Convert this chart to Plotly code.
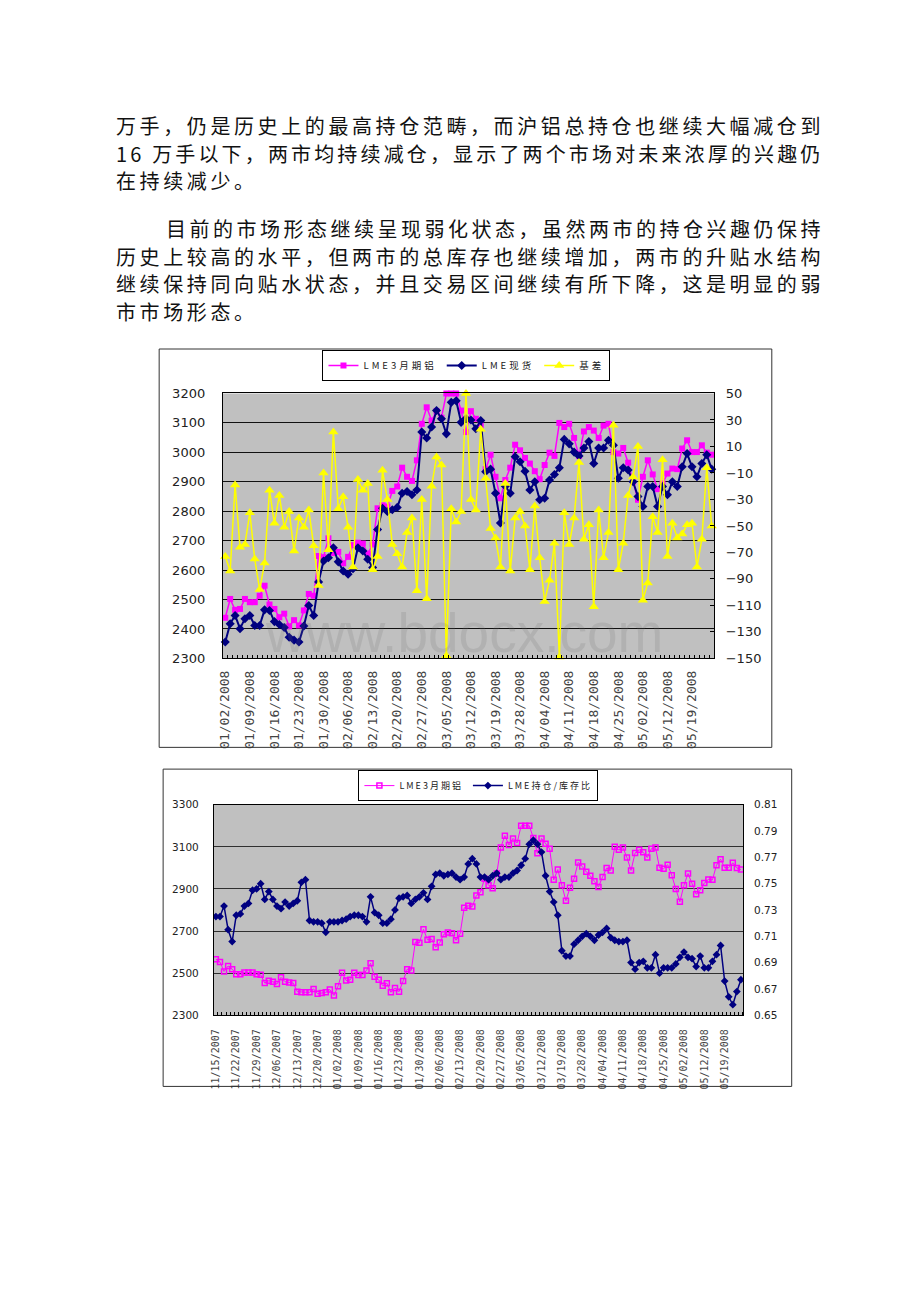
import plotly.graph_objects as go

W, H = 920, 1302

# ---------------- text ----------------
para_lines = [
    "万手，仍是历史上的最高持仓范畴，而沪铝总持仓也继续大幅减仓到",
    "16 万手以下，两市均持续减仓，显示了两个市场对未来浓厚的兴趣仍",
    "在持续减少。",
    "目前的市场形态继续呈现弱化状态，虽然两市的持仓兴趣仍保持",
    "历史上较高的水平，但两市的总库存也继续增加，两市的升贴水结构",
    "继续保持同向贴水状态，并且交易区间继续有所下降，这是明显的弱",
    "市市场形态。",
]
para_x = [110, 110, 110, 160, 110, 110, 110]
para_y = [127, 155, 183, 231, 259, 287, 315]
para_ls = [3.6, 3.15, 3.6, 3.5, 3.6, 3.6, 3.6]

# ---------------- chart 1 data ----------------
ticks1 = ["01/02/2008", "01/09/2008", "01/16/2008", "01/23/2008", "01/30/2008",
          "02/06/2008", "02/13/2008", "02/20/2008", "02/27/2008", "03/05/2008",
          "03/12/2008", "03/19/2008", "03/28/2008", "04/04/2008", "04/11/2008",
          "04/18/2008", "04/25/2008", "05/02/2008", "05/12/2008", "05/19/2008"]

lme3_1 = [2438, 2502, 2465, 2468, 2502, 2491, 2491, 2513, 2547, 2483,
          2468, 2440, 2452, 2409, 2430, 2412, 2463, 2519, 2513, 2648,
          2644, 2708, 2658, 2662, 2623, 2645, 2685, 2693, 2690, 2656,
          2687, 2810, 2820, 2816, 2869, 2884, 2948, 2917, 2903, 2973,
          3097, 3153, 3108, 3140, 3118, 3200, 3200, 3200, 3142, 3069,
          3140, 3114, 3091, 2943, 2992, 2917, 2844, 2906, 2948, 3026,
          3007, 2981, 2962, 2936, 2909, 2957, 2999, 2988, 3100, 3086,
          3097, 3049, 2988, 3071, 3086, 3074, 3049, 3091, 3097, 3001,
          2996, 3015, 2965, 2900, 2839, 2917, 2973, 2925, 2875, 2894,
          2928, 2945, 2943, 3013, 3041, 3001, 3001, 3024, 2999, 2992]

spot_1 = [2356, 2418, 2446, 2401, 2435, 2446, 2412, 2412, 2465, 2463,
          2425, 2415, 2405, 2372, 2362, 2356, 2410, 2480, 2446, 2560,
          2631, 2642, 2676, 2628, 2597, 2586, 2605, 2676, 2665, 2637,
          2609, 2738, 2810, 2799, 2805, 2813, 2861, 2867, 2856, 2872,
          3069, 3049, 3086, 3142, 3114, 3063, 3170, 3175, 3102, 3115,
          3110, 3080, 3108, 2934, 2943, 2861, 2760, 2885, 2861, 2985,
          2968, 2936, 2872, 2900, 2839, 2844, 2906, 2925, 2948, 3044,
          3029, 3001, 2988, 3015, 3037, 2962, 3015, 3015, 3041, 3024,
          2912, 2948, 2940, 2900, 2850, 2816, 2884, 2884, 2816, 2884,
          2856, 2900, 2884, 2951, 2996, 2951, 2917, 2962, 2992, 2943]

basis_1 = [-73, -84, -19, -66, -64, -40, -75, -98, -78, -23,
           -48, -27, -51, -39, -69, -44, -51, -38, -65, -95,
           -10, -68, 21, -37, -28, -51, -81, -15, -23, -18,
           -83, -73, -8, -30, -64, -71, -81, -55, -44, -99,
           -30, -105, -20, 2, -4, -148, -37, -47, -39, 50,
           -30, -38, 23, -14, -52, -59, -81, -18, -84, -44,
           -39, -50, -83, -35, -74, -107, -91, -63, -149, -40,
           -64, -44, -2, -60, -49, -111, -38, -74, -55, 26,
           -83, -63, -27, -13, 10, -106, -93, -43, -55, 0,
           -73, -48, -59, -56, -49, -48, -81, -60, -6, -50]

# ---------------- chart 2 data ----------------
ticks2 = ["11/15/2007", "11/22/2007", "11/29/2007", "12/06/2007", "12/13/2007",
          "12/20/2007", "01/02/2008", "01/09/2008", "01/16/2008", "01/23/2008",
          "01/30/2008", "02/06/2008", "02/13/2008", "02/20/2008", "02/27/2008",
          "03/05/2008", "03/12/2008", "03/19/2008", "03/28/2008", "04/04/2008",
          "04/11/2008", "04/18/2008", "04/25/2008", "05/02/2008", "05/12/2008",
          "05/19/2008"]

lme3_2007 = [2566, 2553, 2508, 2534, 2519, 2495, 2495, 2503, 2503, 2503,
             2495, 2492, 2453, 2464, 2459, 2448, 2480, 2459, 2456, 2453,
             2412, 2409, 2409, 2409, 2425, 2402, 2406, 2409, 2422, 2394]
lme3_2 = lme3_2007 + lme3_1

ratio_2 = [0.725, 0.725, 0.733, 0.715, 0.706, 0.726, 0.727, 0.733, 0.735, 0.745,
           0.746, 0.750, 0.738, 0.744, 0.738, 0.733, 0.731, 0.736, 0.733, 0.735,
           0.737, 0.751, 0.753, 0.722, 0.721, 0.721, 0.720, 0.713, 0.721, 0.721,
           0.721, 0.722, 0.723, 0.725, 0.726, 0.726, 0.725, 0.721, 0.740, 0.728,
           0.726, 0.720, 0.720, 0.723, 0.730, 0.739, 0.740, 0.741, 0.735, 0.738,
           0.740, 0.743, 0.738, 0.748, 0.757, 0.758, 0.756, 0.757, 0.758, 0.755,
           0.753, 0.755, 0.765, 0.769, 0.765,
           0.755, 0.755, 0.753, 0.756, 0.758, 0.753, 0.755, 0.755, 0.758, 0.760,
           0.764, 0.769, 0.780, 0.783, 0.780, 0.774, 0.756, 0.744, 0.736, 0.726,
           0.699, 0.695, 0.695, 0.704, 0.707, 0.710, 0.712, 0.710, 0.707, 0.711,
           0.713, 0.716, 0.709, 0.707, 0.706, 0.706, 0.707, 0.690, 0.685, 0.690,
           0.691, 0.686, 0.686, 0.696, 0.682, 0.686, 0.686, 0.686, 0.689, 0.694,
           0.698, 0.694, 0.693, 0.687, 0.695, 0.686, 0.686, 0.691, 0.696, 0.703,
           0.676, 0.664, 0.658, 0.668, 0.677]

MAGENTA, NAVY, YELLOW = "#FF00FF", "#000080", "#FFFF00"


def px_x(x):
    return x / W


def px_y(y):
    return 1 - y / H


def spaced(s, ls):
    return "<span style='letter-spacing:%.2fpx'>%s</span>" % (ls, s)


x1 = list(range(len(lme3_1)))
x2 = list(range(len(lme3_2)))

fig = go.Figure()

# chart 1 traces
fig.add_trace(go.Scatter(x=x1, y=lme3_1, name=spaced("LME3月期铝", 3), mode="lines+markers",
                         line=dict(color=MAGENTA, width=1.5),
                         marker=dict(symbol="square", size=6, color=MAGENTA, line=dict(width=0)),
                         xaxis="x", yaxis="y", legend="legend", cliponaxis=False))
fig.add_trace(go.Scatter(x=x1, y=spot_1, name=spaced("LME现货", 3), mode="lines+markers",
                         line=dict(color=NAVY, width=2),
                         marker=dict(symbol="diamond", size=7, color=NAVY, line=dict(width=0)),
                         xaxis="x", yaxis="y", legend="legend", cliponaxis=False))
fig.add_trace(go.Scatter(x=x1, y=basis_1, name=spaced("基差", 3), mode="lines+markers",
                         line=dict(color=YELLOW, width=1.5),
                         marker=dict(symbol="triangle-up", size=9, color=YELLOW, line=dict(width=0)),
                         xaxis="x", yaxis="y2", legend="legend", cliponaxis=False))

# chart 2 traces
fig.add_trace(go.Scatter(x=x2, y=lme3_2, name=spaced("LME3月期铝", 2), mode="lines+markers",
                         line=dict(color=MAGENTA, width=1),
                         marker=dict(symbol="square-open", size=5, color=MAGENTA, line=dict(width=1.5)),
                         xaxis="x2", yaxis="y3", legend="legend2"))
fig.add_trace(go.Scatter(x=x2, y=ratio_2, name=spaced("LME持仓/库存比", 2), mode="lines+markers",
                         line=dict(color=NAVY, width=1.5),
                         marker=dict(symbol="diamond", size=6, color=NAVY, line=dict(width=0)),
                         xaxis="x2", yaxis="y4", legend="legend2"))

ytick_font1 = dict(family="DejaVu Sans", size=13, color="#222")
ytick_font2 = dict(family="DejaVu Sans", size=10.5, color="#222")

common_x = dict(showline=True, linecolor="black", linewidth=1, mirror=True,
                showgrid=False, zeroline=False, ticks="", tickangle=-90,
                tickmode="array")

fig.update_layout(
    width=W, height=H, autosize=False,
    margin=dict(l=0, r=0, t=0, b=0),
    paper_bgcolor="white", plot_bgcolor="#C0C0C0",
    showlegend=True,
    xaxis=dict(domain=[px_x(219), px_x(713)], range=[-0.5, len(x1) - 0.5], anchor="y",
               tickvals=[5 * k for k in range(len(ticks1))], ticktext=ticks1,
               tickfont=dict(family="DejaVu Sans Mono", size=13, color="#444"),
               minor=dict(tickmode="linear", tick0=-0.5, dtick=1, ticks="inside",
                          ticklen=3, tickcolor="black", showgrid=False),
               ticklabelstandoff=6, **common_x),
    yaxis=dict(domain=[px_y(659), px_y(391)], range=[2300, 3200], tick0=2300, dtick=100,
               anchor="x", showgrid=True, gridcolor="#111", gridwidth=1,
               showline=True, linecolor="black", zeroline=False, ticks="",
               tickfont=ytick_font1, ticklabelstandoff=14),
    yaxis2=dict(overlaying="y", side="right", anchor="x", range=[-150, 50], tick0=-150, dtick=20,
                showgrid=False, showline=True, linecolor="black", zeroline=False,
                ticks="inside", ticklen=4, tickcolor="black",
                tickfont=ytick_font1, ticklabelstandoff=8),
    xaxis2=dict(domain=[px_x(210), px_x(742)], range=[-0.5, len(x2) - 0.5], anchor="y3",
                tickvals=[5 * k for k in range(len(ticks2))], ticktext=ticks2,
                tickfont=dict(family="DejaVu Sans Mono", size=10, color="#444"),
                minor=dict(tickmode="linear", tick0=-0.5, dtick=1, ticks="inside",
                           ticklen=3, tickcolor="black", showgrid=False),
                ticklabelstandoff=9, **common_x),
    yaxis3=dict(domain=[px_y(1020), px_y(807)], range=[2300, 3300], tick0=2300, dtick=200,
                anchor="x2", showgrid=True, gridcolor="#303030", gridwidth=1,
                showline=True, linecolor="black", zeroline=False, ticks="",
                tickfont=ytick_font2, ticklabelstandoff=12),
    yaxis4=dict(overlaying="y3", side="right", anchor="x2", range=[0.65, 0.81], tick0=0.65, dtick=0.02,
                tickformat=".2f", showgrid=False, showline=True, linecolor="black", zeroline=False,
                ticks="", tickfont=ytick_font2, ticklabelstandoff=8),
    legend=dict(x=px_x(464), y=px_y(347), xanchor="center", yanchor="top",
                orientation="h", bgcolor="white", bordercolor="black", borderwidth=1,
                font=dict(family="Noto Sans CJK SC", size=9.5, color="#222"),
                itemwidth=30, tracegroupgap=0),
    legend2=dict(x=px_x(476), y=px_y(772), xanchor="center", yanchor="top",
                 orientation="h", bgcolor="white", bordercolor="black", borderwidth=1,
                 font=dict(family="Noto Sans CJK SC", size=9, color="#222"),
                 itemwidth=30, tracegroupgap=0),
)

# chart frames
for (x0, y0, x1_, y1_) in [(155, 346, 771, 749), (159, 771, 791, 1092)]:
    fig.add_shape(type="rect", xref="paper", yref="paper",
                  x0=px_x(x0), x1=px_x(x1_), y0=px_y(y1_), y1=px_y(y0),
                  line=dict(color="#333", width=1), fillcolor="rgba(0,0,0,0)")

# paragraph text, one annotation per line (font 20 leaves a gap inside the 28px pitch)
for t, xx, yy, ls in zip(para_lines, para_x, para_y, para_ls):
    fig.add_annotation(text=spaced(t, ls), x=px_x(xx), y=px_y(yy - 7),
                       xref="paper", yref="paper", xanchor="left", yanchor="middle",
                       showarrow=False,
                       font=dict(family="Noto Sans CJK SC", size=20, color="#111"))

# watermark
fig.add_annotation(text="www.bdocx.com", x=px_x(462), y=px_y(633), xref="paper", yref="paper",
                   xanchor="center", yanchor="middle", showarrow=False,
                   font=dict(family="Liberation Sans", size=55, color="rgba(110,110,110,0.18)"))

fig.write_html("out.html")
